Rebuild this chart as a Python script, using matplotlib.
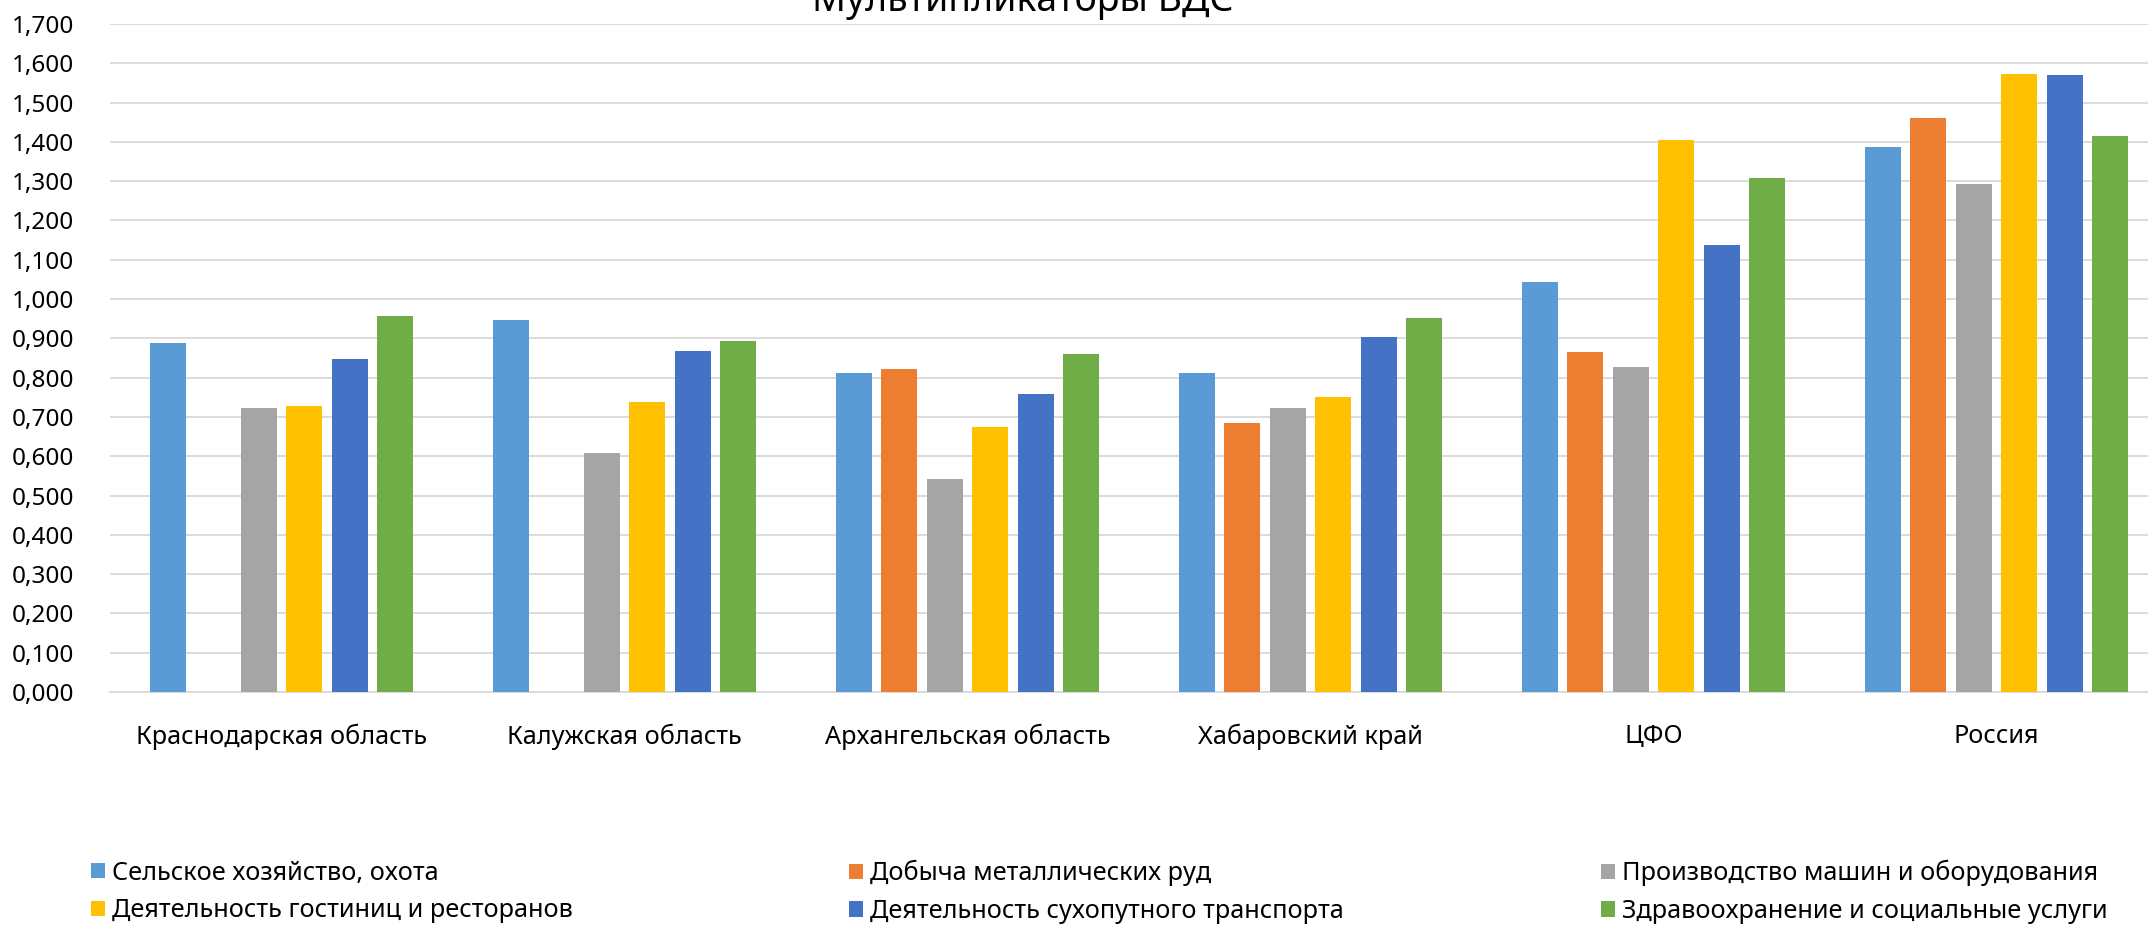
import numpy as np
import matplotlib
matplotlib.use("Agg")
import matplotlib.pyplot as plt

plt.rcParams['font.family'] = ['Noto Sans', 'DejaVu Sans']

regions = ["Краснодарская область", "Калужская область", "Архангельская область",
           "Хабаровский край", "ЦФО", "Россия"]

series_names = ["Сельское хозяйство, охота",
                "Добыча металлических руд",
                "Производство машин и оборудования",
                "Деятельность гостиниц и ресторанов",
                "Деятельность сухопутного транспорта",
                "Здравоохранение и социальные услуги"]

agriculture = [0.887, 0.946, 0.813, 0.811, 1.043, 1.387]
metal_ores = [np.nan, np.nan, 0.821, 0.684, 0.864, 1.461]
machinery = [0.723, 0.609, 0.542, 0.724, 0.827, 1.294]
hotels = [0.728, 0.737, 0.674, 0.750, 1.406, 1.572]
land_transport = [0.847, 0.868, 0.758, 0.904, 1.138, 1.569]
healthcare = [0.956, 0.894, 0.860, 0.951, 1.309, 1.416]

y_ticks = [0.0, 0.1, 0.2, 0.3, 0.4, 0.5, 0.6, 0.7, 0.8, 0.9,
           1.0, 1.1, 1.2, 1.3, 1.4, 1.5, 1.6, 1.7]

colors = ["#5B9BD5", "#ED7D31", "#A5A5A5", "#FFC000", "#4472C4", "#70AD47"]

values = [agriculture, metal_ores, machinery, hotels, land_transport, healthcare]

W, H = 2148, 927
fig = plt.figure(figsize=(W / 100, H / 100), dpi=100)
ax = fig.add_axes([110 / W, 235 / H, 2058 / W, 668 / H])

x = np.arange(len(regions))
pitch = 0.1327
width = 0.105
bars = []
for i, (vals, c) in enumerate(zip(values, colors)):
    b = ax.bar(x + (i - 2.5) * pitch, vals, width=width, color=c, zorder=3)
    bars.append(b)

ax.set_xlim(-0.5, len(regions) - 0.5)
ax.set_ylim(0, 1.7)
ax.set_yticks(y_ticks)
ax.set_yticklabels([f"{v:.3f}".replace('.', ',') for v in y_ticks])
ax.set_xticks(x)
ax.set_xticklabels(regions, fontsize=18.2)
ax.tick_params(axis='both', length=0, colors='#000000')
ax.tick_params(axis='y', pad=26, labelsize=17.5)
ax.tick_params(axis='x', pad=23)
ax.grid(axis='y', color='#D9D9D9', linewidth=1.3, zorder=0)
for side in ['top', 'right', 'left']:
    ax.spines[side].set_visible(False)
ax.spines['bottom'].set_color('#D9D9D9')
ax.spines['bottom'].set_linewidth(1.3)

fig.text(1023 / W, (H - 11) / H, "Мультипликаторы ВДС", fontsize=27,
         ha='center', va='baseline')

# legend in three columns, two rows each
col_x = [91, 849, 1601]
for col in range(3):
    idx = [col, col + 3]
    fig.legend([bars[k] for k in idx], [series_names[k] for k in idx],
               loc='center left', bbox_to_anchor=(col_x[col] / W, 35 / H),
               frameon=False, fontsize=18.2, handlelength=0.55, handleheight=0.55,
               handletextpad=0.3, labelspacing=0.5, borderaxespad=0, borderpad=0)

fig.savefig("out.png", dpi=100)
